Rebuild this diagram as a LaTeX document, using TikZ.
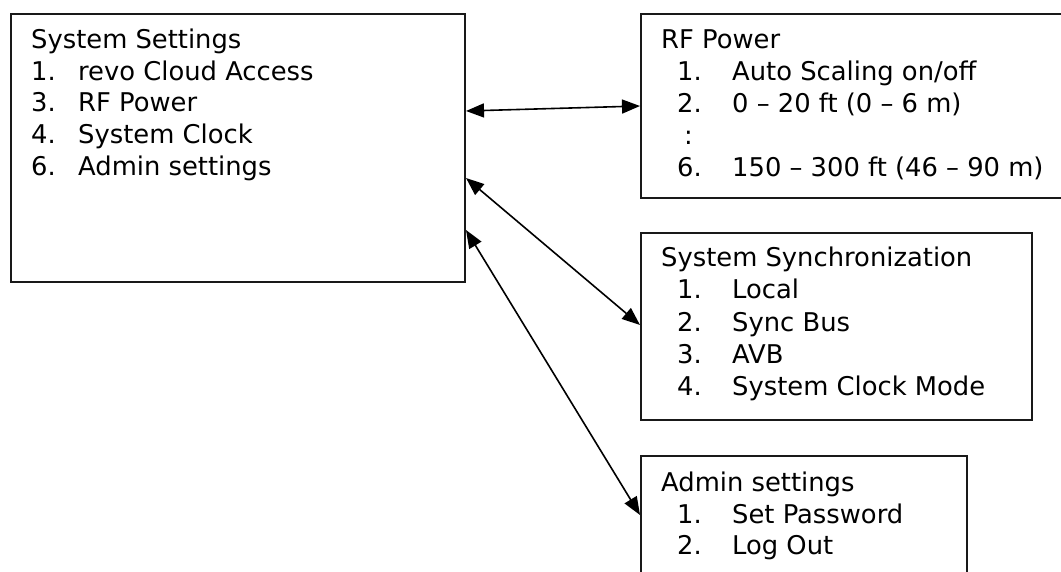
\documentclass[tikz,border=0pt]{standalone}
\usepackage{fontspec}
\setmainfont{DejaVu Sans}
\usetikzlibrary{arrows.meta}
\newcommand{\itemA}[2]{\makebox[47pt][l]{#1}#2}
\newcommand{\itemB}[2]{\makebox[55pt][l]{#1}#2}
\begin{document}
\begin{tikzpicture}[x=1pt,y=-1pt,
  panel/.style={draw=black!90, line width=2pt, rectangle, inner sep=0pt, anchor=north west},
  txt/.style={anchor=base west, inner sep=0pt, font=\fontsize{25.8}{32}\selectfont},
  link/.style={line width=1.6pt, {Triangle[length=18pt,width=14pt]}-{Triangle[length=18pt,width=14pt]}}]
\useasboundingbox (0,0) rectangle (1061,572);
\clip (0,0) rectangle (1061,572);

% menu panels
\node[panel, minimum width=454pt, minimum height=268pt] (main) at (10,13) {};
\node[panel, minimum width=470pt, minimum height=184pt] (rf) at (640,13) {};
\node[panel, minimum width=391pt, minimum height=187pt] (sync) at (640,232) {};
\node[panel, minimum width=326pt, minimum height=160pt] (admin) at (640,455) {};

% System Settings
\node[txt] (m0) at (31,49)  {System Settings};
\node[txt] (m1) at (31,81)  {\itemA{1.}{revo Cloud Access}};
\node[txt] (m2) at (31,112) {\itemA{3.}{RF Power}};
\node[txt] (m3) at (31,144) {\itemA{4.}{System Clock}};
\node[txt] (m4) at (31,176) {\itemA{6.}{Admin settings}};

% RF Power
\node[txt] (r0) at (661,49)  {RF Power};
\node[txt] (r1) at (677,81)  {\itemB{1.}{Auto Scaling on/off}};
\node[txt] (r2) at (677,113) {\itemB{2.}{0 – 20 ft (0 – 6 m)}};
\node[txt] (r3) at (684,145) {:};
\node[txt] (r4) at (677,177) {\itemB{6.}{150 – 300 ft (46 – 90 m)}};

% System Synchronization
\node[txt] (s0) at (661,267) {System Synchronization};
\node[txt] (s1) at (677,299) {\itemB{1.}{Local}};
\node[txt] (s2) at (677,331) {\itemB{2.}{Sync Bus}};
\node[txt] (s3) at (677,363) {\itemB{3.}{AVB}};
\node[txt] (s4) at (677,395) {\itemB{4.}{System Clock Mode}};

% Admin settings
\node[txt] (a0) at (661,491) {Admin settings};
\node[txt] (a1) at (677,523) {\itemB{1.}{Set Password}};
\node[txt] (a2) at (677,554) {\itemB{2.}{Log Out}};

% links between the menus
\draw[link] ([yshift=-98pt]main.north east) -- ([yshift=-93pt]rf.north west);
\draw[link] ([yshift=-165pt]main.north east) -- ([yshift=-93pt]sync.north west);
\draw[link] ([yshift=-217pt]main.north east) -- ([yshift=-60pt]admin.north west);
\end{tikzpicture}
\end{document}
